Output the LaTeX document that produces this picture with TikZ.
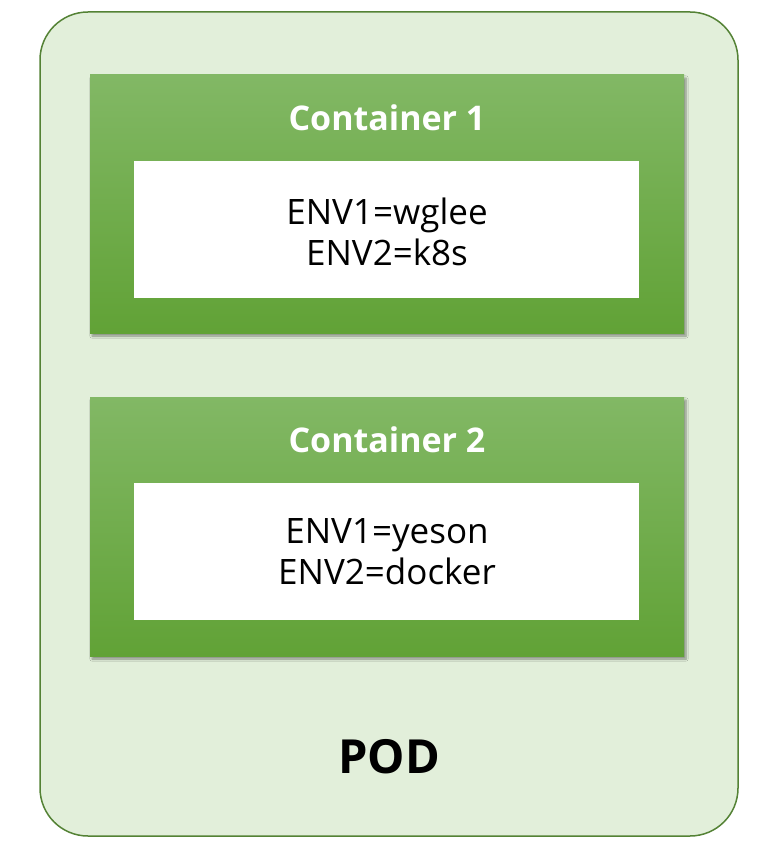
\documentclass[tikz,border=0pt]{standalone}
\usepackage{fontspec}
\setmainfont{Open Sans}
\usetikzlibrary{shadows.blur}
\definecolor{podfill}{HTML}{E2EFDA}
\definecolor{podline}{HTML}{548235}
\definecolor{ctop}{HTML}{82B865}
\definecolor{cbot}{HTML}{61A236}
\tikzset{
  pod/.style={draw=podline, line width=1.5pt, fill=podfill, rounded corners=48pt},
  cbox/.style={top color=ctop, bottom color=cbot, draw=none,
     blur shadow={shadow xshift=2pt, shadow yshift=-3pt, shadow blur steps=6, shadow opacity=40}},
  inner/.style={fill=white, draw=none},
  ctitle/.style={text=white, font=\bfseries\fontsize{34}{40}\selectfont},
  envtxt/.style={align=center, font=\fontsize{35}{41}\selectfont},
  podtxt/.style={font=\bfseries\fontsize{47}{50}\selectfont}
}
\begin{document}
\begin{tikzpicture}[x=1pt,y=-1pt]
\useasboundingbox (0,0) rectangle (770,864);
\draw[pod] (40,12) rectangle (738,836);
\path[cbox] (90,75) rectangle (684,333);
\path[inner] (134,161) rectangle (639,298);
\node[ctitle] (t1) at (387,118) {Container 1};
\node[envtxt] (e1) at (387,232) {ENV1=wglee\\ENV2=k8s};
\path[cbox] (90,397) rectangle (684,656);
\path[inner] (134,483) rectangle (639,620);
\node[ctitle] (t2) at (387,440) {Container 2};
\node[envtxt] (e2) at (387,552) {ENV1=yeson\\ENV2=docker};
\node[podtxt] (p) at (389,757) {POD};
\end{tikzpicture}
\end{document}
